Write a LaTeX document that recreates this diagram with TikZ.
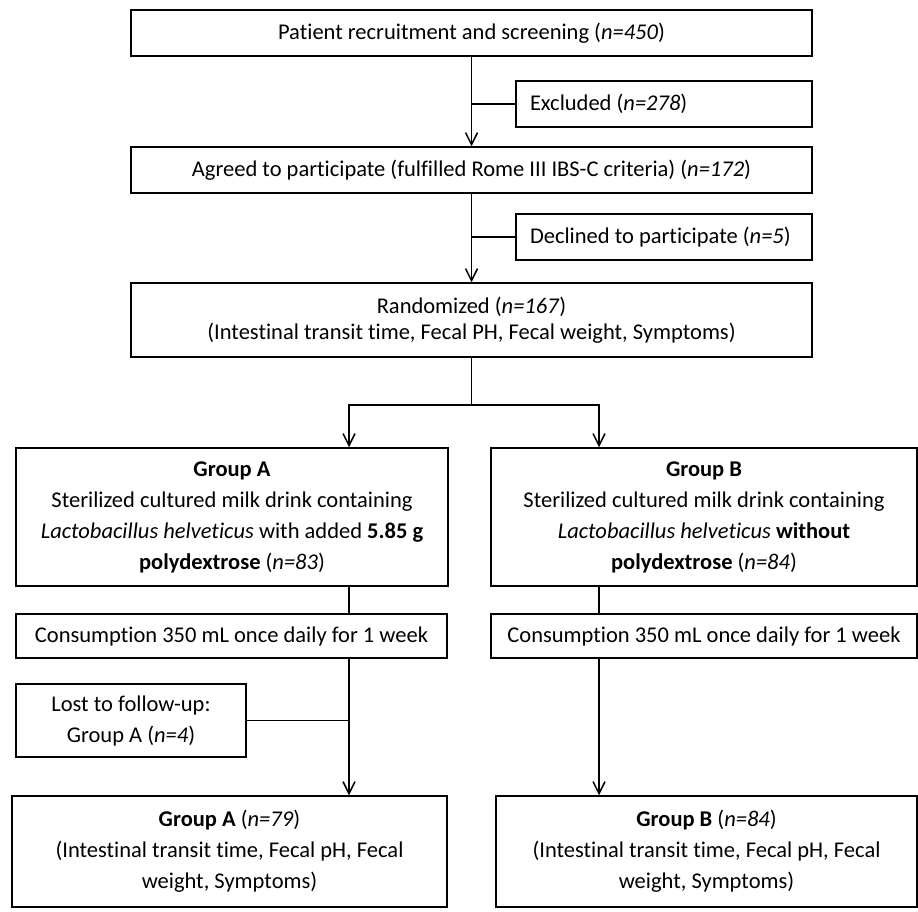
\documentclass[tikz,border=0pt]{standalone}
\usepackage{fontspec}
\setmainfont{Carlito}[Ligatures=NoCommon]
\usepackage{tikz}
\usetikzlibrary{arrows.meta,positioning,calc}

\begin{document}
\begin{tikzpicture}[
      x=1pt, y=-1pt,
      box/.style={draw=black, line width=1.5pt, align=center, inner sep=0pt,
        font=\fontsize{22.5}{31}\selectfont},
      sidebox/.style={box, align=flush left, inner xsep=14pt, inner ysep=0pt},
      link/.style={draw=black, line width=1.5pt},
      arr/.style={link, -{Straight Barb[length=12pt,width=12pt,line width=1.5pt]}}
    ]
      \useasboundingbox (0,0) rectangle (918,911);
      % main column
      \node[box, minimum width=681pt, minimum height=46pt] (recruit) at (471.5,33)
        {Patient recruitment and screening (\textit{n=450})};
      \node[sidebox, text width=268pt, minimum height=46pt] (excluded) at (664,104)
        {Excluded (\textit{n=278})};
      \node[box, minimum width=681pt, minimum height=46pt] (agreed) at (471.5,170)
        {Agreed to participate (fulfilled Rome III IBS-C criteria) (\textit{n=172})};
      \node[sidebox, text width=268pt, minimum height=46pt] (declined) at (664,237)
        {Declined to participate (\textit{n=5})};
      \node[box, minimum width=681pt, minimum height=74pt,
        font=\fontsize{22.5}{26}\selectfont] (random) at (471.5,320)
        {Randomized (\textit{n=167})\\(Intestinal transit time, Fecal PH, Fecal weight, Symptoms)};
      % the two arms
      \node[box, minimum width=432pt, minimum height=138pt] (groupA) at (232,517)
        {\textbf{Group A}\\Sterilized cultured milk drink containing\\
         \textit{Lactobacillus helveticus} with added \textbf{5.85 g}\\
         \textbf{polydextrose} (\textit{n=83})};
      \node[box, minimum width=426pt, minimum height=138pt] (groupB) at (704,517)
        {\textbf{Group B}\\Sterilized cultured milk drink containing\\
         \textit{Lactobacillus helveticus} \textbf{without}\\
         \textbf{polydextrose} (\textit{n=84})};
      \node[box, minimum width=431pt, minimum height=44pt] (consA) at (231.5,636)
        {Consumption 350 mL once daily for 1 week};
      \node[box, minimum width=426pt, minimum height=44pt] (consB) at (704,636)
        {Consumption 350 mL once daily for 1 week};
      \node[box, minimum width=230pt, minimum height=73pt] (lost) at (131,720.5)
        {Lost to follow-up:\\Group A (\textit{n=4})};
      \node[box, minimum width=435pt, minimum height=111pt] (finalA) at (229.5,851.5)
        {\textbf{Group A} (\textit{n=79})\\(Intestinal transit time, Fecal pH, Fecal\\weight, Symptoms)};
      \node[box, minimum width=421pt, minimum height=111pt] (finalB) at (706.5,851.5)
        {\textbf{Group B} (\textit{n=84})\\(Intestinal transit time, Fecal pH, Fecal\\weight, Symptoms)};

      \coordinate (splitA) at (349,405);
      \coordinate (splitB) at (599,405);

      \draw[arr] (recruit.south) -- (agreed.north);
      \draw[link] (excluded.west) -- (recruit.south |- excluded.west);
      \draw[arr] (agreed.south) -- (random.north);
      \draw[link] (declined.west) -- (agreed.south |- declined.west);
      \draw[arr] (random.south) |- (splitA) -- (splitA |- groupA.north);
      \draw[arr] (random.south |- splitB) -- (splitB) -- (splitB |- groupB.north);
      \draw[link] (groupA.south -| splitA) -- (consA.north -| splitA);
      \draw[link] (groupB.south -| splitB) -- (consB.north -| splitB);
      \draw[arr] (consA.south -| splitA) -- (finalA.north -| splitA);
      \draw[link] (lost.east) -- (lost.east -| splitA);
      \draw[arr] (consB.south -| splitB) -- (finalB.north -| splitB);
    \end{tikzpicture}
\end{document}
